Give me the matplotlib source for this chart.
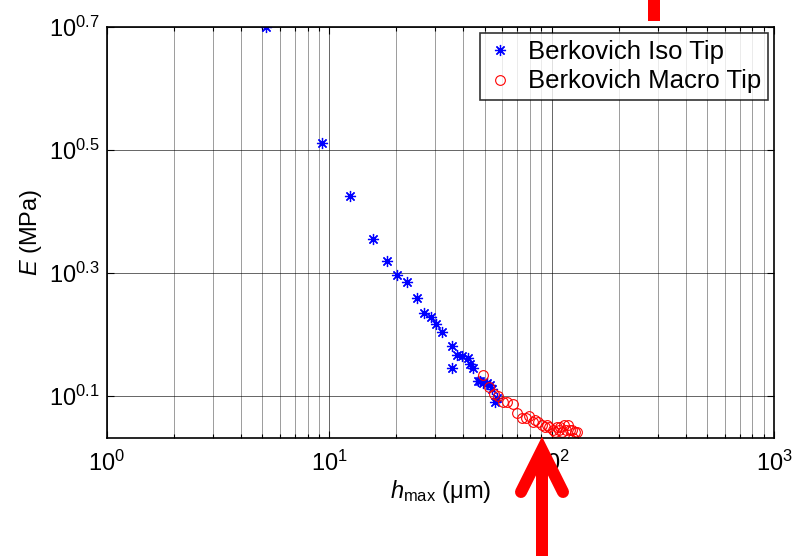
import numpy as np
import matplotlib
matplotlib.use("Agg")
import matplotlib.pyplot as plt
from matplotlib.lines import Line2D
from matplotlib.ticker import FixedLocator, LogLocator, NullFormatter, FixedFormatter

plt.rcParams['font.family'] = ['Liberation Sans', 'DejaVu Sans']
plt.rcParams['mathtext.fontset'] = 'custom'
plt.rcParams['mathtext.rm'] = 'Liberation Sans'
plt.rcParams['mathtext.it'] = 'Liberation Sans:italic'
plt.rcParams['mathtext.default'] = 'regular'

# Berkovich Iso Tip
iso_h = [5.19, 9.27, 12.39, 15.73, 18.18, 20.16, 22.37, 24.81, 26.67, 28.68,
         30.20, 32.14, 35.65, 35.65, 37.54, 39.54, 42.07, 42.95, 44.31, 46.67,
         47.64, 49.12, 51.20, 52.84, 53.95, 56.78, 55.62]
iso_E = [5.01, 3.25, 2.66, 2.27, 2.09, 1.98, 1.93, 1.82, 1.72, 1.69,
         1.65, 1.60, 1.52, 1.40, 1.47, 1.46, 1.45, 1.42, 1.40, 1.33,
         1.33, 1.32, 1.32, 1.31, 1.29, 1.25, 1.23]

# Berkovich Macro Tip
macro_h = [49.1, 52.3, 55.0, 57.4, 60.4, 63.0, 67.0, 69.9, 73.6, 76.7,
           79.1, 82.5, 84.5, 86.8, 90.5, 93.4, 95.5, 97.3, 101.4, 103.5,
           105.7, 107.5, 109.1, 111.5, 113.7, 116.0, 118.5, 121.0, 123.5, 127.4,
           130.1, 124.8]
macro_E = [1.36, 1.30, 1.27, 1.26, 1.23, 1.23, 1.22, 1.18, 1.16, 1.16,
           1.17, 1.14, 1.15, 1.14, 1.13, 1.12, 1.13, 1.12, 1.11, 1.10,
           1.12, 1.11, 1.12, 1.10, 1.13, 1.11, 1.13, 1.11, 1.11, 1.10,
           1.10, 1.076]

ytick_exps = [0.1, 0.3, 0.5, 0.7]
ytick_labels = [r'$10^{0.1}$', r'$10^{0.3}$', r'$10^{0.5}$', r'$10^{0.7}$']
xtick_vals = [1, 10, 100, 1000]
xtick_labels = [r'$10^{0}$', r'$10^{1}$', r'$10^{2}$', r'$10^{3}$']

W, H = 798, 556
fig = plt.figure(figsize=(W / 100, H / 100), dpi=100)
L, R, T, B = 107, 774, 27, 438
ax = fig.add_axes([L / W, 1 - B / H, (R - L) / W, (B - T) / H])
ax.set_xscale('log')
ax.set_yscale('log')

ax.plot(iso_h, iso_E, linestyle='none', marker=(8, 2, 0), color='blue',
        markersize=8, markeredgewidth=0.9, label='Berkovich Iso Tip')
ax.plot(macro_h, macro_E, linestyle='none', marker='o', markerfacecolor='none',
        markeredgecolor='red', markersize=7, markeredgewidth=0.8,
        label='Berkovich Macro Tip')

ax.set_xlim(1, 1000)
ax.set_ylim(10 ** 0.0317, 10 ** 0.7)

ax.xaxis.set_major_locator(FixedLocator(xtick_vals))
ax.xaxis.set_major_formatter(FixedFormatter(xtick_labels))
ax.xaxis.set_minor_locator(LogLocator(base=10, subs=np.arange(2, 10)))
ax.xaxis.set_minor_formatter(NullFormatter())

yt = [10 ** e for e in ytick_exps]
ax.yaxis.set_major_locator(FixedLocator(yt))
ax.yaxis.set_major_formatter(FixedFormatter(ytick_labels))
ax.yaxis.set_minor_locator(FixedLocator([]))
ax.yaxis.set_minor_formatter(NullFormatter())

ax.tick_params(which='both', direction='in', top=True, right=True, labelsize=17,
               width=0.8)
ax.tick_params(which='major', length=5)
ax.tick_params(which='minor', length=3)
ax.tick_params(axis='x', pad=9)
ax.tick_params(axis='y', pad=5)

ax.grid(True, which='major', color='black', linewidth=0.6, alpha=0.7)
ax.grid(True, which='minor', axis='x', color='black', linewidth=0.6, alpha=0.45)
for s in ax.spines.values():
    s.set_linewidth(1.2)

ax.set_xlabel(r'$\mathit{h}_{\mathrm{max}}$ ($\mu$m)', fontsize=17, labelpad=2)
ax.set_ylabel(r'$\mathit{E}$ (MPa)', fontsize=17, labelpad=4)

leg = ax.legend(loc='upper right', fontsize=18.5, frameon=True, fancybox=False,
                borderaxespad=0.25, handletextpad=0.6, borderpad=0.25,
                labelspacing=0.22, handlelength=1.0, markerscale=1.0)
leg.get_frame().set_edgecolor('black')
leg.get_frame().set_linewidth(1.2)

# red annotation arrows (figure pixel coordinates)
def px(xp, yp):
    return xp / W, 1 - yp / H

lw = 12 * 72 / 100
x0, y0 = px(654, 0)
x1, y1 = px(654, 21)
fig.add_artist(Line2D([x0, x1], [y0, y1], transform=fig.transFigure,
                      color='red', linewidth=lw, solid_capstyle='butt'))
x0, y0 = px(542, 556)
x1, y1 = px(542, 452)
fig.add_artist(Line2D([x0, x1], [y0, y1], transform=fig.transFigure,
                      color='red', linewidth=lw, solid_capstyle='butt'))
xa, ya = px(521, 492)
xb, yb = px(542, 450)
xc, yc = px(563, 492)
fig.add_artist(Line2D([xa, xb, xc], [ya, yb, yc], transform=fig.transFigure,
                      color='red', linewidth=lw, solid_capstyle='round',
                      solid_joinstyle='miter'))

fig.savefig('out.png', dpi=100)
